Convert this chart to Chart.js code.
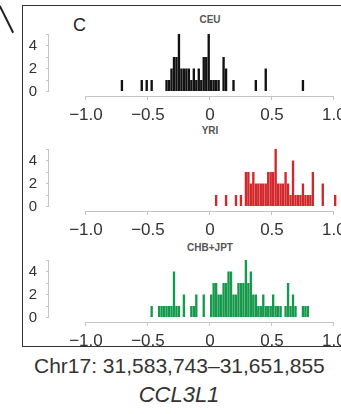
<!DOCTYPE html>
<html>
<head>
<meta charset="utf-8">
<script src="https://cdn.jsdelivr.net/npm/chart.js@4/dist/chart.umd.min.js"></script>
<style>
  html, body { margin: 0; padding: 0; background: #fff; }
  body {
    width: 341px; height: 414px; position: relative; overflow: hidden;
    font-family: "Liberation Sans", Arial, sans-serif; color: #333;
  }
  .frame {
    position: absolute; left: 22px; top: 5px; width: 340px; height: 342px;
    border: 1.5px solid #333; box-sizing: border-box;
  }
  .stroke {
    position: absolute; left: 0; top: 5px; width: 30px; height: 1.5px;
    background: #222; transform-origin: 0 50%; transform: rotate(63.5deg);
  }
  canvas { position: absolute; left: 0; }
  .ttl {
    position: absolute; left: 160px; width: 100px; text-align: center;
    font-size: 10px; font-weight: bold; color: #555; line-height: 10px;
  }
  .letter { position: absolute; left: 73px; top: 16px; font-size: 18px; line-height: 18px; color: #222; }
  .coords { position: absolute; left: 34px; top: 355px; font-size: 21px; line-height: 21px; color: #333; white-space: nowrap; }
  .gene { position: absolute; left: 0; width: 358px; top: 384px; text-align: center; font-size: 22px; line-height: 22px; font-style: italic; color: #333; }
</style>
</head>
<body>
<div class="frame"></div>
<div class="stroke"></div>
<div class="letter">C</div>
<div class="ttl" style="top:15px">CEU</div>
<div class="ttl" style="top:126px">YRI</div>
<div class="ttl" style="top:243px">CHB+JPT</div>
<canvas id="ceu" width="342" height="98" style="top:28px"></canvas>
<canvas id="yri" width="342" height="98" style="top:143px"></canvas>
<canvas id="chb" width="342" height="98" style="top:254px"></canvas>
<div class="coords">Chr17: 31,583,743–31,651,855</div>
<div class="gene">CCL3L1</div>

<script>
// tick values and labels
const xTickValues = [-1, -0.5, 0, 0.5, 1];
const xTickLabels = ["\u22121.0", "\u22120.5", "0", "0.5", "1.0"];
const yTickValues = [0, 1, 2, 3, 4, 5];
const yTickLabels = ["0", "", "2", "", "4", ""];

// CEU histogram (bin centres / counts)
const ceuBins = [-0.71, -0.55, -0.51, -0.47, -0.35, -0.33, -0.31, -0.29, -0.27, -0.25,
  -0.23, -0.21, -0.19, -0.17, -0.15, -0.13, -0.11, -0.09, -0.07, -0.05, -0.03, -0.01,
  0.01, 0.03, 0.05, 0.07, 0.11, 0.13, 0.19, 0.37, 0.45, 0.75];
const ceuCounts = [1, 1, 1, 1, 1, 1, 2, 3, 3, 5,
  2, 2, 2, 2, 1, 2, 1, 2, 1, 3, 3, 5,
  1, 1, 1, 1, 3, 2, 1, 1, 2, 1];

// YRI histogram
const yriBins = [0.05, 0.13, 0.21, 0.25, 0.29, 0.31, 0.33, 0.35, 0.37, 0.39, 0.41, 0.43,
  0.45, 0.47, 0.49, 0.51, 0.53, 0.55, 0.57, 0.59, 0.61, 0.63, 0.65, 0.67, 0.69, 0.71,
  0.73, 0.75, 0.77, 0.79, 0.81, 0.83, 0.91, 1.01];
const yriCounts = [1, 1, 1, 1, 3, 3, 2, 3, 2, 2, 2, 2,
  2, 3, 3, 3, 5, 2, 2, 2, 3, 2, 1, 4, 1, 1,
  1, 2, 1, 1, 1, 3, 2, 1];

// CHB+JPT histogram
const chbBins = [-0.47, -0.41, -0.39, -0.37, -0.35, -0.33, -0.31, -0.29, -0.27, -0.25,
  -0.21, -0.15, -0.13, -0.11, -0.05, 0.01, 0.03, 0.05, 0.07, 0.09, 0.11, 0.13, 0.15,
  0.17, 0.19, 0.21, 0.23, 0.25, 0.27, 0.29, 0.31, 0.33, 0.35, 0.37, 0.39, 0.41, 0.43,
  0.45, 0.47, 0.49, 0.51, 0.53, 0.55, 0.57, 0.61, 0.63, 0.65, 0.67, 0.69, 0.75, 0.77, 0.79];
const chbCounts = [1, 1, 1, 1, 1, 1, 1, 4, 1, 1,
  2, 1, 1, 2, 2, 2, 3, 3, 2, 2, 3, 3, 4,
  4, 2, 2, 3, 3, 3, 5, 3, 4, 2, 2, 1, 1, 2,
  1, 1, 1, 2, 1, 1, 1, 1, 3, 1, 2, 1, 1, 1, 1];

const axisGray = "#c4c4c4";
const tickFont = { family: "'Liberation Sans', Arial, sans-serif" };

// x axis line only from -1 to 1, y axis line only from 0 to 5
const axisLines = {
  id: "axisLines",
  beforeDatasetsDraw(chart) {
    const { ctx, chartArea, scales: { x, y } } = chart;
    ctx.save();
    ctx.strokeStyle = axisGray;
    ctx.lineWidth = 1;
    ctx.beginPath();
    ctx.moveTo(x.getPixelForValue(xTickValues[0]), chartArea.bottom + 0.5);
    ctx.lineTo(x.getPixelForValue(xTickValues[xTickValues.length - 1]), chartArea.bottom + 0.5);
    ctx.moveTo(chartArea.left - 0.5, y.getPixelForValue(yTickValues[0]));
    ctx.lineTo(chartArea.left - 0.5, y.getPixelForValue(yTickValues[yTickValues.length - 1]));
    ctx.stroke();
    ctx.restore();
  }
};

// scales add their own label padding to the layout, drop it
function noPad(s) {
  s.paddingLeft = 0;
  s.paddingRight = 0;
  s.paddingTop = 0;
  s.paddingBottom = 0;
}

function makePanel(id, bins, counts, color) {
  return new Chart(document.getElementById(id), {
    type: "bar",
    data: {
      datasets: [{
        data: bins.map((b, i) => ({ x: b, y: counts[i] })),
        backgroundColor: color,
        borderWidth: 0,
        categoryPercentage: 1,
        barPercentage: 0.95
      }]
    },
    options: {
      responsive: false,
      animation: false,
      devicePixelRatio: 1,
      layout: { padding: { top: 6, right: 0, bottom: 0, left: 0 }, autoPadding: false },
      plugins: { legend: { display: false }, tooltip: { enabled: false } },
      scales: {
        x: {
          type: "linear",
          offset: false,
          min: -1.298,
          max: 1.065,
          afterBuildTicks: s => { s.ticks = xTickValues.map(v => ({ value: v })); },
          afterFit: s => { s.height = 30; noPad(s); },
          ticks: {
            autoSkip: false, maxRotation: 0, padding: 5, color: "#333",
            font: { ...tickFont, size: 17 },
            callback: (v, i) => xTickLabels[i]
          },
          grid: { drawOnChartArea: false, tickLength: 4, color: axisGray, offset: false },
          border: { display: false }
        },
        y: {
          min: -0.39,
          max: 5,
          afterBuildTicks: s => { s.ticks = yTickValues.map(v => ({ value: v })); },
          afterFit: s => { s.width = 49; noPad(s); },
          ticks: {
            autoSkip: false, padding: 9, color: "#333",
            font: { ...tickFont, size: 15 },
            callback: (v, i) => yTickLabels[i]
          },
          grid: { drawOnChartArea: false, tickLength: 3, color: axisGray },
          border: { display: false }
        }
      }
    },
    plugins: [axisLines]
  });
}

makePanel("ceu", ceuBins, ceuCounts, "#111111");
makePanel("yri", yriBins, yriCounts, "#d3282b");
makePanel("chb", chbBins, chbCounts, "#16994a");
</script>
</body>
</html>
